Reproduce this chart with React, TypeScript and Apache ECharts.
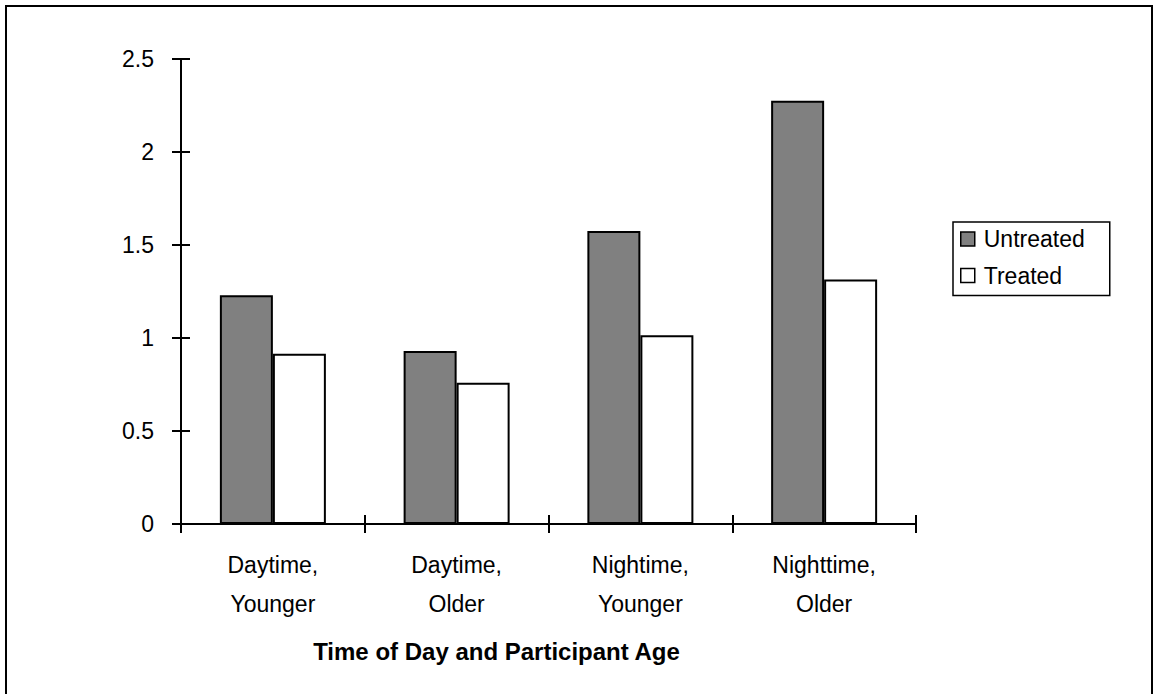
import React, { useEffect, useRef } from "react";
import * as echarts from "echarts";

const categories = ["Daytime,\nYounger", "Daytime,\nOlder", "Nightime,\nYounger", "Nighttime,\nOlder"];
const untreated = [1.23, 0.93, 1.575, 2.275];
const treated = [0.915, 0.76, 1.015, 1.315];
const seriesNames = ["Untreated", "Treated"];
const axisTitle = "Time of Day and Participant Age";

const FONT = "'Liberation Sans', Arial, sans-serif";

export default function App() {
  const ref = useRef<HTMLDivElement>(null);
  useEffect(() => {
    if (!ref.current) return;
    const chart = echarts.init(ref.current, null, { renderer: "svg" });
    const black = "#000";
    chart.setOption({
      animation: false,
      backgroundColor: "#fff",
      textStyle: { fontFamily: FONT },
      grid: { left: 181, right: 237, top: 59, bottom: 170, containLabel: false },
      legend: {
        orient: "vertical",
        left: 953,
        top: 222,
        padding: [5, 25, 8, 7],
        itemGap: 12.5,
        itemWidth: 14,
        itemHeight: 14,
        icon: "rect",
        backgroundColor: "#fff",
        borderColor: black,
        borderWidth: 1.5,
        borderRadius: 0,
        textStyle: { fontSize: 23, color: black, fontFamily: FONT, lineHeight: 24, padding: [0, 0, 0, 4] },
        itemStyle: { borderColor: black, borderWidth: 1.5 },
        data: seriesNames,
      },
      xAxis: [
        {
          type: "category",
          data: categories,
          axisLine: { lineStyle: { color: black, width: 2 } },
          axisTick: { show: true, length: 9, lineStyle: { color: black, width: 2 } },
          axisLabel: { color: black, fontSize: 23, fontFamily: FONT, lineHeight: 39, margin: 21 },
          splitLine: { show: false },
        },
        {
          type: "category",
          data: categories,
          position: "bottom",
          axisLine: { show: false },
          axisTick: { show: true, inside: true, length: 9, lineStyle: { color: black, width: 2 } },
          axisLabel: { show: false },
          splitLine: { show: false },
        },
      ],
      yAxis: [
        {
          type: "value",
          min: 0,
          max: 2.5,
          interval: 0.5,
          axisLine: { show: true, lineStyle: { color: black, width: 2 } },
          axisTick: { show: true, length: 9, lineStyle: { color: black, width: 2 } },
          axisLabel: { color: black, fontSize: 23, fontFamily: FONT, margin: 27 },
          splitLine: { show: false },
        },
        {
          type: "value",
          min: 0,
          max: 2.5,
          interval: 0.5,
          position: "left",
          axisLine: { show: false },
          axisTick: { show: true, inside: true, length: 9, lineStyle: { color: black, width: 2 } },
          axisLabel: { show: false },
          splitLine: { show: false },
        },
      ],
      series: [
        {
          name: seriesNames[0],
          type: "bar",
          data: untreated,
          barWidth: 53,
          barGap: "0%",
          itemStyle: { color: "#808080", borderColor: black, borderWidth: 2 },
        },
        {
          name: seriesNames[1],
          type: "bar",
          data: treated,
          barWidth: 53,
          barGap: "0%",
          itemStyle: { color: "#ffffff", borderColor: black, borderWidth: 2 },
        },
      ],
      graphic: [
        {
          type: "rect",
          shape: { x: 6, y: 6, width: 1146, height: 720 },
          style: { fill: "none", stroke: black, lineWidth: 2 },
          silent: true,
          z: 100,
        },
        {
          type: "text",
          x: 496.5,
          y: 651,
          style: {
            text: axisTitle,
            fontSize: 24,
            fontWeight: "bold",
            fontFamily: FONT,
            fill: black,
            textAlign: "center",
            textVerticalAlign: "middle",
          },
        },
      ],
    });
    return () => chart.dispose();
  }, []);
  return (
    <div
      ref={ref}
      style={{ position: "absolute", left: 0, top: 0, width: 1153, height: 694 }}
    />
  );
}
